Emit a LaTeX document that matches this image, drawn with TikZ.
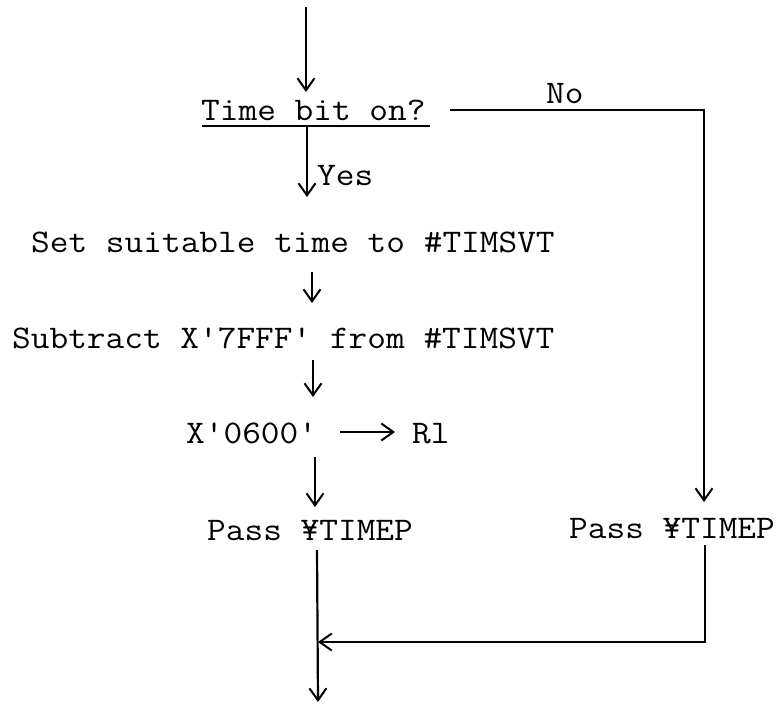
\documentclass[tikz,border=0pt]{standalone}
\usepackage{fontspec}
\usetikzlibrary{arrows.meta}
\begin{document}
\begin{tikzpicture}[x=1pt,y=-1pt,
  txt/.style={inner sep=0pt, anchor=base west, xscale=1.1, font=\ttfamily\fontsize{33}{38}\selectfont},
  ln/.style={line width=2.2pt},
  arr/.style={ln, -{Straight Barb[length=12pt,width=17pt,line width=2pt]}}]
\useasboundingbox (0,0) rectangle (783,705);
% text nodes
\node[txt] (q) at (201,120) {Time bit on?};
\node[txt] (no) at (546,103) {No};
\node[txt] (yes) at (317,185) {Yes};
\node[txt] (set) at (31,252) {Set suitable time to \#TIMSVT};
\node[txt] (sub) at (12,348) {Subtract X\textquotesingle 7FFF\textquotesingle{} from \#TIMSVT};
\node[txt] (x) at (186,443) {X\textquotesingle 0600\textquotesingle};
\node[txt] (r) at (412,443) {Rl};
\node[txt] (pl) at (207,540) {Pass ¥TIMEP};
\node[txt] (pr) at (569,538) {Pass ¥TIMEP};
% coordinates
\coordinate (top) at (306,7);
\coordinate (qin) at (306,92);
\coordinate (ul1) at (202,126);
\coordinate (ul2) at (430,126);
\coordinate (yes0) at (307,126);
\coordinate (yes1) at (307,197);
\coordinate (a1) at (312,272);
\coordinate (b1) at (312,303);
\coordinate (a2) at (313,360);
\coordinate (b2) at (313,397);
\coordinate (xr0) at (340,432);
\coordinate (xr1) at (395,432);
\coordinate (a3) at (315,457);
\coordinate (b3) at (315,507);
\coordinate (nos) at (450,110);
\coordinate (noc) at (704,110);
\coordinate (noe) at (704,502);
\coordinate (pr0) at (705,545);
\coordinate (prc) at (705,642);
\coordinate (join) at (318,642);
\coordinate (pl0) at (317,550);
\coordinate (out) at (318,702);
% connectors
\draw[arr] (top) -- (qin);
\draw[ln] (ul1) -- (ul2);
\draw[arr] (yes0) -- (yes1);
\draw[arr] (a1) -- (b1);
\draw[arr] (a2) -- (b2);
\draw[arr] (xr0) -- (xr1);
\draw[arr] (a3) -- (b3);
\draw[arr] (nos) -- (noc) -- (noe);
\draw[arr] (pr0) -- (prc) -- (join);
\draw[arr] (pl0) -- (out);
\end{tikzpicture}
\end{document}
